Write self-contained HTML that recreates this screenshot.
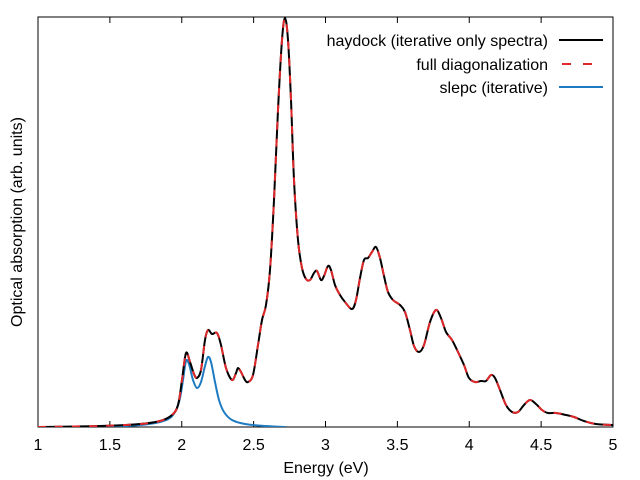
<!DOCTYPE html>
<html><head><meta charset="utf-8"><style>
html,body{margin:0;padding:0;background:#fff}
svg{display:block}
text{font-family:"Liberation Sans",Arial,sans-serif;font-size:16px;fill:#000}
</style></head><body>
<svg id="s" width="640" height="480" viewBox="0 0 640 480" xmlns="http://www.w3.org/2000/svg">
<defs><clipPath id="c"><rect x="38" y="17" width="575" height="410"/></clipPath></defs>
<rect x="38" y="17" width="575" height="410" fill="none" stroke="#000" stroke-width="1"/>
<g id="ticks" stroke="#000" stroke-width="1"></g>
<g id="tl"></g>
<g clip-path="url(#c)">
<path id="blue" fill="none" stroke="#1f7bc1" stroke-width="2"/>
<path id="black" fill="none" stroke="#000" stroke-width="2"/>
<path id="red" fill="none" stroke="#e0282a" stroke-width="2" stroke-dasharray="8,9"/>
</g>
<rect x="318" y="25" width="290" height="75" fill="#fff"/>
<text x="548" y="46" text-anchor="end">haydock (iterative only spectra)</text>
<text x="548" y="70" text-anchor="end">full diagonalization</text>
<text x="548" y="93" text-anchor="end">slepc (iterative)</text>
<rect x="316" y="25" width="8" height="30" fill="#fff"/>
<line x1="559" y1="40" x2="603" y2="40" stroke="#000" stroke-width="2"/>
<line x1="559" y1="64" x2="603" y2="64" stroke="#e0282a" stroke-width="2" stroke-dasharray="9,12" stroke-dashoffset="-3"/>
<line x1="559" y1="87" x2="603" y2="87" stroke="#1f7bc1" stroke-width="2"/>
<text x="326" y="473" text-anchor="middle">Energy (eV)</text>
<text transform="translate(22,222) rotate(-90)" text-anchor="middle">Optical absorption (arb. units)</text>
</svg>
<script>
function cr(p){var d="M"+p[0][0]+","+p[0][1];for(var i=0;i<p.length-1;i++){var a=p[i-1]||p[i],b=p[i],c=p[i+1],e=p[i+2]||c;
d+=" C"+(b[0]+(c[0]-a[0])/6).toFixed(2)+","+(b[1]+(c[1]-a[1])/6).toFixed(2)+" "+(c[0]-(e[0]-b[0])/6).toFixed(2)+","+(c[1]-(e[1]-b[1])/6).toFixed(2)+" "+c[0]+","+c[1];}return d;}
var k=[[38,427],[100,426],[140,424],[160,421],[172,415],[178,405],[182,380],[186,353],[190,362],[194,374],[197,378],[201,370],[205,340],[208,330],[212,334],[217,333],[221,345],[226,368],[232,380],[236,373],[238,368],[241,372],[245,380],[248,382],[253,375],[258,345],[262,320],[266,305],[270,270],[274,200],[278,110],[282,40],[285,18],[288,40],[291,100],[294,180],[298,240],[302,268],[306,279],[310,280],[314,273],[317,271],[321,280],[324,276],[328,266],[331,270],[335,285],[340,295],[345,302],[352,309],[356,300],[360,278],[364,260],[368,258],[372,252],[376,247],[380,258],[384,276],[388,292],[393,300],[400,305],[405,312],[410,330],[414,346],[419,352],[424,345],[430,322],[436,310],[441,318],[446,332],[452,340],[458,352],[464,365],[469,378],[475,382],[481,381],[486,381],[491,375],[495,378],[500,390],[506,405],[512,412],[518,412],[524,405],[530,400],[536,404],[542,410],[548,413],[556,413],[566,415],[574,417],[584,421],[596,424],[613,425]];
var b=[[38,428],[100,427],[140,425],[160,422],[170,418],[176,410],[180,398],[183,380],[186,361],[189,364],[193,380],[197,388],[201,382],[205,366],[208,357],[211,362],[215,382],[219,400],[224,412],[232,420],[245,424],[265,426],[286,427]];
var pk=cr(k);document.getElementById("black").setAttribute("d",pk);document.getElementById("red").setAttribute("d",pk);
document.getElementById("blue").setAttribute("d",cr(b));
var t=document.getElementById("ticks"),tl=document.getElementById("tl"),ns="http://www.w3.org/2000/svg";
var labs=["1","1.5","2","2.5","3","3.5","4","4.5","5"];
for(var i=0;i<9;i++){var x=38+i*71.875;
[[427,421],[17,23]].forEach(function(y){var l=document.createElementNS(ns,"line");l.setAttribute("x1",x);l.setAttribute("x2",x);l.setAttribute("y1",y[0]);l.setAttribute("y2",y[1]);t.appendChild(l);});
var tx=document.createElementNS(ns,"text");tx.setAttribute("x",x);tx.setAttribute("y",450);tx.setAttribute("text-anchor","middle");tx.textContent=labs[i];tl.appendChild(tx);}
</script>
</body></html>
